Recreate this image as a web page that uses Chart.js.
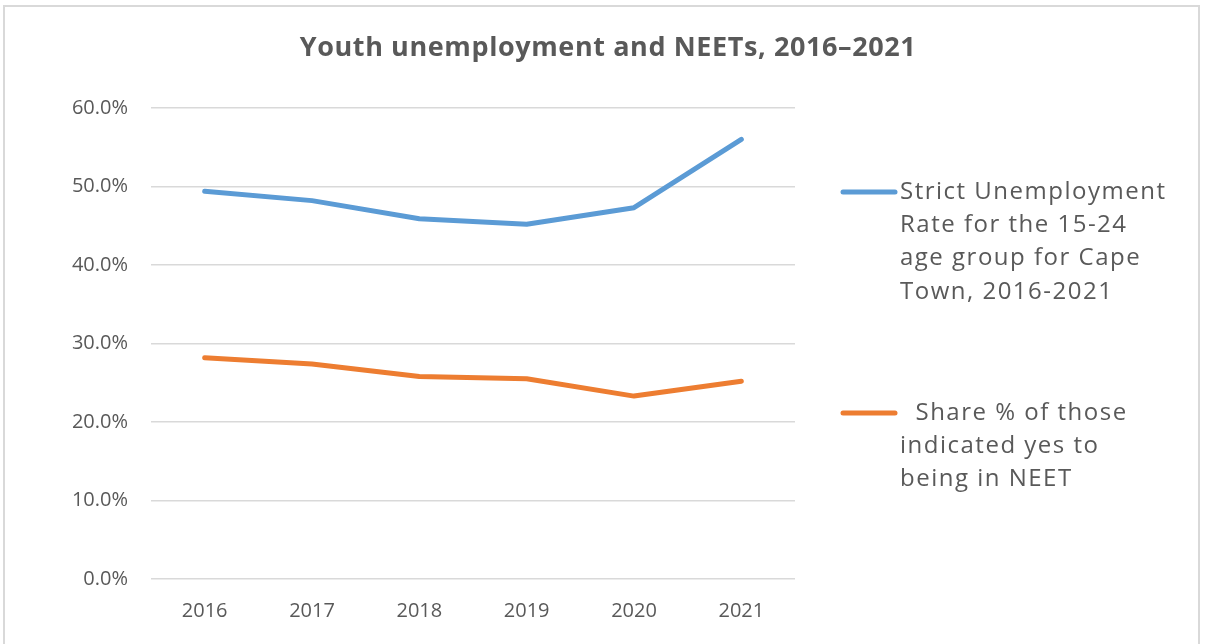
<!DOCTYPE html>
<html>
<head>
<meta charset="utf-8">
<title>Youth unemployment and NEETs</title>
<script src="https://cdn.jsdelivr.net/npm/chart.js@4.4.1/dist/chart.umd.min.js"></script>
<style>
    html, body { margin: 0; padding: 0; background: #fff; }
    #wrap { position: relative; width: 1205px; height: 644px; overflow: hidden; }
    #frame { position: absolute; left: 3px; top: 5px; width: 1197px; height: 660px;
             border: 2px solid #d9d9d9; box-sizing: border-box; }
    #chart { position: absolute; left: 0; top: 0; }
</style>
</head>
<body>
<div id="wrap">
    <div id="frame"></div>
    <canvas id="chart" width="1205" height="644"></canvas>
</div>
<script>
var years = ['2016', '2017', '2018', '2019', '2020', '2021'];
var strictUnemployment = [49.4, 48.2, 45.9, 45.2, 47.3, 56.0];
var neetShare = [28.2, 27.4, 25.8, 25.5, 23.3, 25.2];

var chartTitle = 'Youth unemployment and NEETs, 2016\u20132021';
var unemploymentLines = ['Strict Unemployment', 'Rate for the 15-24', 'age group for Cape', 'Town, 2016-2021'];
var neetLines = ['  Share % of those', 'indicated yes to', 'being in NEET'];

var FONT = '"Open Sans", "Liberation Sans", sans-serif';
var GREY = '#595959';

// title centred on the whole canvas, plus a legend with wrapped labels on the right
var decorations = {
    id: 'decorations',
    afterDraw: function(chart) {
        var ctx = chart.ctx;
        ctx.save();
        ctx.fillStyle = GREY;
        ctx.textBaseline = 'middle';

        ctx.font = 'bold 27px ' + FONT;
        ctx.letterSpacing = '0.6px';
        ctx.textAlign = 'center';
        ctx.fillText(chartTitle, 608, 48);

        var items = [
            { color: chart.data.datasets[0].borderColor, lines: unemploymentLines, y: 192 },
            { color: chart.data.datasets[1].borderColor, lines: neetLines, y: 413 }
        ];
        ctx.font = '24px ' + FONT;
        ctx.letterSpacing = '1.5px';
        ctx.textAlign = 'left';
        items.forEach(function(it) {
            ctx.strokeStyle = it.color;
            ctx.lineWidth = 5;
            ctx.lineCap = 'round';
            ctx.beginPath();
            ctx.moveTo(843, it.y);
            ctx.lineTo(895, it.y);
            ctx.stroke();
            it.lines.forEach(function(t, i) {
                ctx.fillText(t, 900, it.y + i * 33.3);
            });
        });
        ctx.restore();
    }
};

var chart = new Chart(document.getElementById('chart').getContext('2d'), {
    type: 'line',
    data: {
        labels: years,
        datasets: [{
            label: unemploymentLines.join(' '),
            data: strictUnemployment,
            borderColor: '#5B9BD5',
            borderWidth: 5,
            pointRadius: 0,
            borderCapStyle: 'round',
            borderJoinStyle: 'round',
            tension: 0
        }, {
            label: neetLines.join(' ').trim(),
            data: neetShare,
            borderColor: '#ED7D31',
            borderWidth: 5,
            pointRadius: 0,
            borderCapStyle: 'round',
            borderJoinStyle: 'round',
            tension: 0
        }]
    },
    options: {
        responsive: false,
        animation: false,
        layout: { padding: { left: 0, right: 410, top: 108, bottom: 1 } },
        plugins: {
            legend: { display: false },
            tooltip: { enabled: false },
            title: { display: false }
        },
        scales: {
            x: {
                offset: true,
                grid: { display: false, drawTicks: false },
                border: { display: false },
                ticks: { color: GREY, font: { family: FONT, size: 20 }, padding: 20 }
            },
            y: {
                min: 0,
                max: 60,
                afterFit: function(scale) { scale.width = 151; },
                grid: { color: '#d9d9d9', lineWidth: 1.5, drawTicks: false },
                border: { display: false },
                ticks: {
                    stepSize: 10,
                    color: GREY,
                    font: { family: FONT, size: 20 },
                    padding: 23,
                    callback: function(v) { return v.toFixed(1) + '%'; }
                }
            }
        }
    },
    plugins: [decorations]
});
</script>
</body>
</html>
